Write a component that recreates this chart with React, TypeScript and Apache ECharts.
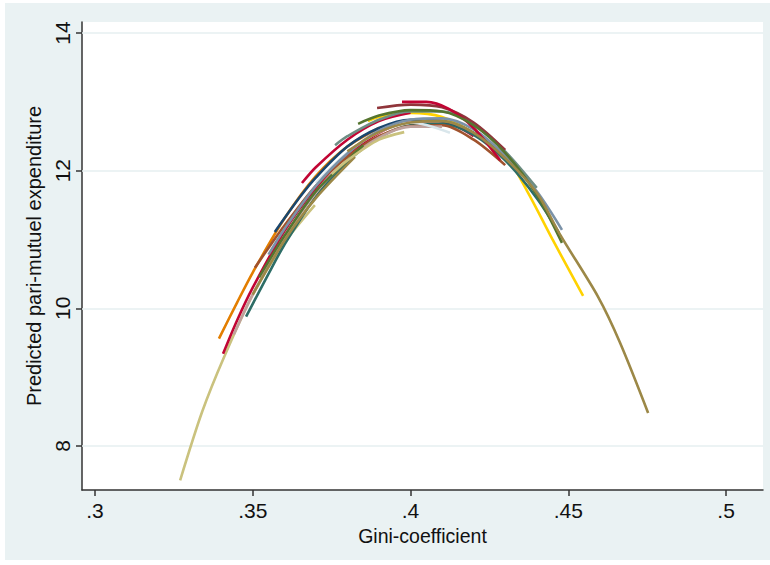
import React, { useEffect, useRef } from "react";
import * as echarts from "echarts";

// Axis ticks
const xTicks = [0.3, 0.35, 0.4, 0.45, 0.5];
const yTicks = [8, 10, 12, 14];
const X_MIN = 0.2959;
const X_MAX = 0.5117;
const Y_MIN = 7.36;
const Y_MAX = 14.16;

// Predicted curves (Gini, expenditure)
const khakiLeft = [[0.327, 7.5], [0.334, 8.5], [0.341, 9.3], [0.35, 10.2], [0.36, 10.95], [0.3697, 11.5]];
const dkorange = [[0.3393, 9.56], [0.345, 10.08], [0.35, 10.52], [0.36, 11.3], [0.37, 11.92], [0.38, 12.35], [0.39, 12.62]];
const cranberryLow = [[0.3406, 9.34], [0.345, 9.82], [0.35, 10.3], [0.36, 11.12], [0.37, 11.75], [0.38, 12.22], [0.39, 12.55], [0.4, 12.72], [0.41, 12.72], [0.42, 12.5]];
const emerald = [[0.3479, 9.88], [0.355, 10.5], [0.36, 10.92], [0.37, 11.62], [0.38, 12.13], [0.39, 12.48], [0.4, 12.66], [0.41, 12.68], [0.42, 12.52], [0.43, 12.15], [0.44, 11.6], [0.447, 11.1]];
const sienna = [[0.3507, 10.59], [0.3561, 10.95], [0.36, 11.2], [0.37, 11.78], [0.38, 12.2], [0.39, 12.5], [0.4, 12.65], [0.41, 12.66], [0.42, 12.45], [0.43, 12.08]];
const navy = [[0.357, 11.11], [0.365, 11.62], [0.37, 11.9], [0.38, 12.35], [0.39, 12.62], [0.4, 12.74], [0.41, 12.72], [0.42, 12.55], [0.43, 12.2]];
const erose = [[0.344, 9.62], [0.35, 10.2], [0.36, 11.02], [0.37, 11.68], [0.38, 12.15], [0.39, 12.48], [0.4, 12.64], [0.41, 12.64]];
const greenStub = [[0.352, 10.45], [0.36, 11.05], [0.37, 11.7], [0.38, 12.15], [0.385, 12.37]];
const brownStub = [[0.35, 10.2], [0.36, 10.98], [0.37, 11.6], [0.3824, 12.2]];
const khakiStub = [[0.375, 11.95], [0.38, 12.15], [0.39, 12.45], [0.398, 12.56]];
const bluishgray = [[0.37, 11.82], [0.38, 12.26], [0.39, 12.56], [0.4, 12.7], [0.4125, 12.55]];
const teal = [[0.3761, 12.37], [0.38, 12.5], [0.39, 12.74], [0.4, 12.86], [0.41, 12.86], [0.42, 12.68], [0.43, 12.28], [0.44, 11.75]];
const redMid = [[0.3656, 11.82], [0.37, 12.05], [0.38, 12.45], [0.39, 12.72], [0.4, 12.84]];
const maroon = [[0.3894, 12.91], [0.4, 12.96], [0.41, 12.92], [0.42, 12.7], [0.43, 12.3]];
const cranberryTop = [[0.3973, 13.0], [0.405, 13.0], [0.412, 12.9], [0.42, 12.62], [0.4284, 12.15]];
const emidblue = [[0.355, 10.78], [0.36, 11.15], [0.37, 11.78], [0.38, 12.25], [0.39, 12.58], [0.4, 12.74], [0.41, 12.76], [0.42, 12.6], [0.43, 12.22], [0.44, 11.7], [0.448, 11.14]];
const forestGreen = [[0.3834, 12.68], [0.39, 12.8], [0.4, 12.88], [0.41, 12.86], [0.42, 12.66], [0.43, 12.26], [0.44, 11.65], [0.448, 10.95]];
const gold = [[0.3865, 12.72], [0.39, 12.78], [0.4, 12.84], [0.41, 12.78], [0.42, 12.55], [0.43, 12.22], [0.437, 11.7], [0.445, 11.0], [0.4547, 10.18]];
const brownLong = [[0.38, 12.28], [0.39, 12.56], [0.4, 12.7], [0.41, 12.72], [0.42, 12.55], [0.43, 12.18], [0.44, 11.68], [0.4474, 11.07], [0.4594, 10.17], [0.4664, 9.5], [0.4753, 8.48]];

const curves: { data: number[][]; color: string }[] = [
  { data: khakiLeft, color: "#cac27e" },
  { data: dkorange, color: "#e37e00" },
  { data: cranberryLow, color: "#c10534" },
  { data: gold, color: "#ffd200" },
  { data: emerald, color: "#2d6d66" },
  { data: sienna, color: "#a0522d" },
  { data: erose, color: "#bfa19c" },
  { data: navy, color: "#1a476f" },
  { data: greenStub, color: "#55752f" },
  { data: brownStub, color: "#9c8847" },
  { data: khakiStub, color: "#cac27e" },
  { data: bluishgray, color: "#d9e6eb" },
  { data: emidblue, color: "#7b92a8" },
  { data: redMid, color: "#c10534" },
  { data: teal, color: "#6e8e84" },
  { data: maroon, color: "#90353b" },
  { data: cranberryTop, color: "#c10534" },
  { data: forestGreen, color: "#55752f" },
  { data: brownLong, color: "#9c8847" },
];

const FONT = "'Liberation Sans', Arial, sans-serif";

export default function App() {
  const ref = useRef<HTMLDivElement>(null);
  useEffect(() => {
    if (!ref.current) return;
    const chart = echarts.init(ref.current, undefined, { renderer: "svg" });
    const series: any[] = curves.map((c, i) => ({
      type: "line",
      data: c.data,
      smooth: 0.3,
      showSymbol: false,
      symbol: "none",
      silent: true,
      z: 3,
      lineStyle: { color: c.color, width: 2.6 },
      markLine:
        i === 0
          ? {
              silent: true,
              symbol: "none",
              label: { show: false },
              lineStyle: { color: "#e6eff0", width: 1.5, type: "solid" },
              data: yTicks.map((v) => ({ yAxis: v })),
              z: 1,
            }
          : undefined,
    }));
    chart.setOption({
      animation: false,
      backgroundColor: "#eaf2f3",
      textStyle: { fontFamily: FONT },
      grid: { left: 77, right: 7, top: 19, bottom: 70, show: true, backgroundColor: "#ffffff", borderWidth: 0 },
      xAxis: {
        type: "value",
        min: X_MIN,
        max: X_MAX,
        name: "Gini-coefficient",
        nameLocation: "middle",
        nameGap: 35,
        nameTextStyle: { color: "#111", fontSize: 19.5, fontFamily: FONT },
        axisLine: { show: true, onZero: false, lineStyle: { color: "#333", width: 1.5 } },
        axisTick: { show: true, length: 6, customValues: xTicks, lineStyle: { color: "#333", width: 1.5 } },
        axisLabel: {
          customValues: xTicks,
          color: "#111",
          fontSize: 21,
          margin: 10,
          fontFamily: FONT,
          formatter: (v: number) => String(v).replace(/^0/, ""),
        },
        splitLine: { show: false },
      },
      yAxis: {
        type: "value",
        min: Y_MIN,
        max: Y_MAX,
        name: "Predicted pari-mutuel expenditure",
        nameLocation: "middle",
        nameGap: 36,
        nameRotate: 90,
        nameTextStyle: { color: "#111", fontSize: 20, fontFamily: FONT },
        axisLine: { show: true, onZero: false, lineStyle: { color: "#333", width: 1.5 } },
        axisTick: { show: true, length: 6, customValues: yTicks, lineStyle: { color: "#333", width: 1.5 } },
        axisLabel: {
          customValues: yTicks,
          color: "#111",
          fontSize: 21,
          margin: 9,
          rotate: 90,
          fontFamily: FONT,
        },
        splitLine: { show: false },
      },
      series,
    });
    return () => chart.dispose();
  }, []);
  return (
    <div style={{ position: "fixed", left: 0, top: 0, width: 770, height: 565, background: "#ffffff" }}>
      <div ref={ref} style={{ position: "absolute", left: 5, top: 3, width: 765, height: 557 }} />
    </div>
  );
}
